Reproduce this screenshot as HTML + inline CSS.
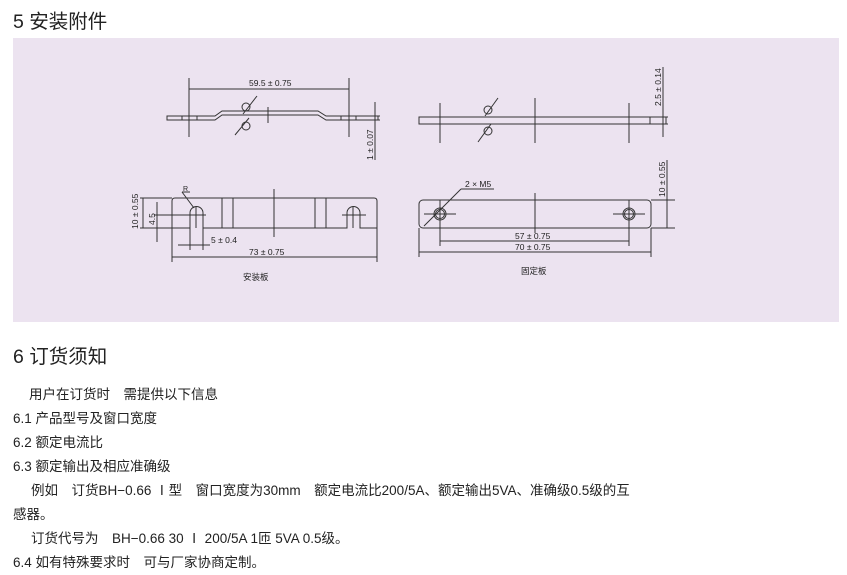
<!DOCTYPE html>
<html><head><meta charset="utf-8"><style>
body{margin:0;width:847px;height:575px;background:#fff;font-family:"Liberation Sans","Noto Sans CJK SC",sans-serif;color:#222;position:relative;overflow:hidden}
.t{position:absolute;white-space:nowrap}
.h{font-size:19.5px;left:13px}
.p{font-size:13.5px;left:13px}
</style></head><body>
<div class="t h" style="top:5px">5 安装附件</div>
<svg style="position:absolute;left:0;top:0" width="847" height="330">
<rect x="13" y="38" width="826" height="284" fill="#ece3f0"/>
<g stroke="#333" stroke-width="1" fill="none">
<path d="M167,116 H215 L222,111 H318 L326,116 H378 V120 H326 L318,115 H222 L215,120 H167 Z"/>
<line x1="182" y1="116" x2="182" y2="120"/><line x1="197" y1="116" x2="197" y2="120"/>
<line x1="341" y1="116" x2="341" y2="120"/><line x1="356" y1="116" x2="356" y2="120"/>
<line x1="189" y1="78" x2="189" y2="137"/><line x1="349" y1="78" x2="349" y2="137"/>
<line x1="189" y1="89" x2="349" y2="89"/>
<line x1="268" y1="107" x2="268" y2="123"/>
<circle cx="246" cy="107" r="4"/><circle cx="246" cy="126" r="4"/>
<line x1="257" y1="96" x2="243" y2="114"/><line x1="249" y1="118" x2="235" y2="135"/>
<line x1="375" y1="102" x2="375" y2="160"/><line x1="370" y1="116" x2="380" y2="116"/><line x1="370" y1="120" x2="380" y2="120"/>
<path d="M172,228 V201 Q172,198 175,198 H374 Q377,198 377,201 V228 H360 V213 A6.5,6.5 0 0 0 347,213 V228 H203 V213 A6.5,6.5 0 0 0 190,213 V228 Z"/>
<line x1="222" y1="198" x2="222" y2="228"/><line x1="233" y1="198" x2="233" y2="228"/>
<line x1="315" y1="198" x2="315" y2="228"/><line x1="326" y1="198" x2="326" y2="228"/>
<line x1="274" y1="189" x2="274" y2="237"/>
<line x1="196" y1="207" x2="196" y2="228"/><line x1="353" y1="207" x2="353" y2="228"/>
<line x1="185" y1="215" x2="206" y2="215"/><line x1="342" y1="215" x2="366" y2="215"/>
<line x1="172" y1="228" x2="172" y2="262"/><line x1="377" y1="228" x2="377" y2="262"/>
<line x1="172" y1="257" x2="377" y2="257"/>
<line x1="190" y1="228" x2="190" y2="250"/><line x1="203" y1="228" x2="203" y2="250"/>
<line x1="178" y1="245" x2="210" y2="245"/>
<line x1="140" y1="198" x2="172" y2="198"/><line x1="140" y1="228" x2="172" y2="228"/>
<line x1="143" y1="198" x2="143" y2="228"/>
<line x1="154" y1="215" x2="190" y2="215"/><line x1="157" y1="202" x2="157" y2="242"/>
<line x1="182" y1="192" x2="190" y2="192"/><line x1="182" y1="192" x2="194" y2="208"/>
<rect x="419" y="117" width="247" height="7"/>
<line x1="650" y1="117" x2="650" y2="124"/>
<line x1="440" y1="103" x2="440" y2="143"/><line x1="535" y1="98" x2="535" y2="143"/><line x1="629" y1="103" x2="629" y2="143"/>
<circle cx="488" cy="110" r="4"/><circle cx="488" cy="131" r="4"/>
<line x1="498" y1="98" x2="485" y2="116"/><line x1="491" y1="124" x2="478" y2="142"/>
<line x1="663" y1="67" x2="663" y2="137"/><line x1="650" y1="117" x2="668" y2="117"/><line x1="650" y1="124" x2="668" y2="124"/>
<rect x="419" y="200" width="232" height="28" rx="4"/>
<circle cx="440" cy="214" r="6"/><circle cx="440" cy="214" r="4.5"/>
<circle cx="629" cy="214" r="6"/><circle cx="629" cy="214" r="4.5"/>
<line x1="424" y1="214" x2="456" y2="214"/><line x1="613" y1="214" x2="645" y2="214"/>
<line x1="440" y1="200" x2="440" y2="246"/><line x1="629" y1="200" x2="629" y2="246"/>
<line x1="535" y1="193" x2="535" y2="233"/>
<line x1="440" y1="241" x2="629" y2="241"/>
<line x1="419" y1="228" x2="419" y2="257"/><line x1="651" y1="228" x2="651" y2="257"/>
<line x1="419" y1="252" x2="651" y2="252"/>
<line x1="651" y1="200" x2="675" y2="200"/><line x1="651" y1="228" x2="675" y2="228"/>
<line x1="667" y1="160" x2="667" y2="228"/>
<line x1="424" y1="226" x2="461" y2="189"/><line x1="461" y1="189" x2="494" y2="189"/>
</g>
<g font-size="8.5" fill="#222" font-family="Liberation Sans,sans-serif">
<text x="249" y="86">59.5 ± 0.75</text>
<text x="183" y="191" font-size="7">R</text>
<text x="211" y="243">5 ± 0.4</text>
<text x="249" y="255">73 ± 0.75</text>
<text transform="translate(373,160) rotate(-90)">1 ± 0.07</text>
<text transform="translate(138,229) rotate(-90)">10 ± 0.55</text>
<text transform="translate(155,225) rotate(-90)">4.5</text>
<text x="465" y="187">2 × M5</text>
<text x="515" y="239">57 ± 0.75</text>
<text x="515" y="250">70 ± 0.75</text>
<text transform="translate(661,106) rotate(-90)">2.5 ± 0.14</text>
<text transform="translate(665,197) rotate(-90)">10 ± 0.55</text>
<text x="243" y="280" font-family="Noto Sans CJK SC,sans-serif">安装板</text>
<text x="521" y="274" font-family="Noto Sans CJK SC,sans-serif">固定板</text>
</g>
</svg>
<div class="t h" style="top:340px">6 订货须知</div>
<div class="t p" style="top:383px;left:29px">用户在订货时　需提供以下信息</div>
<div class="t p" style="top:407px">6.1 产品型号及窗口宽度</div>
<div class="t p" style="top:431px">6.2 额定电流比</div>
<div class="t p" style="top:455px">6.3 额定输出及相应准确级</div>
<div class="t p" style="top:479px;left:31px">例如　订货BH−0.66 Ⅰ型　窗口宽度为30mm　额定电流比200/5A、额定输出5VA、准确级0.5级的互</div>
<div class="t p" style="top:503px">感器。</div>
<div class="t p" style="top:527px;left:31px">订货代号为　BH−0.66 30 Ⅰ 200/5A 1匝 5VA  0.5级。</div>
<div class="t p" style="top:551px">6.4 如有特殊要求时　可与厂家协商定制。</div>
</body></html>
